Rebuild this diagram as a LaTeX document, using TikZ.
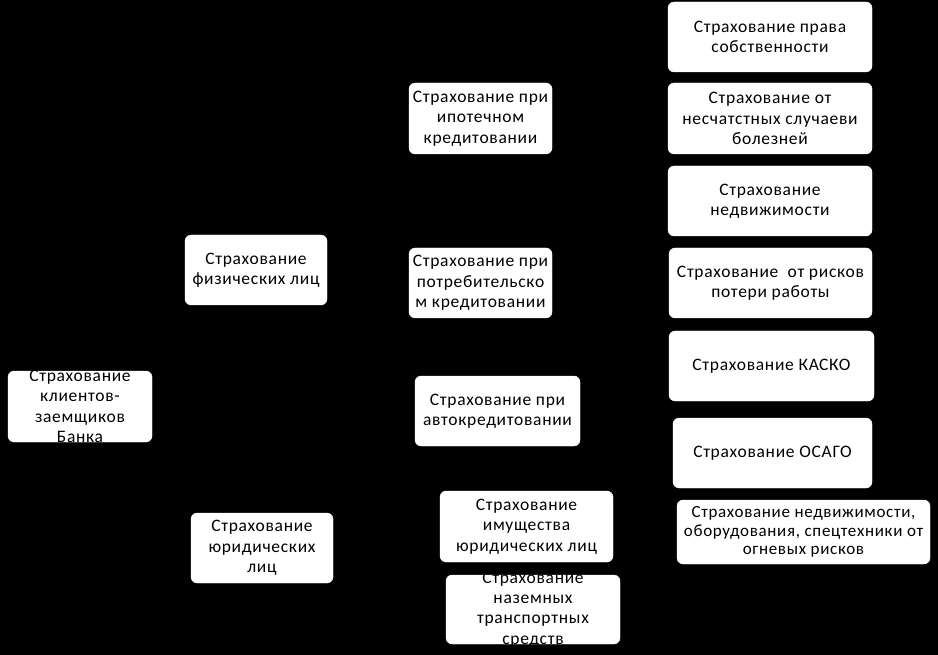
\documentclass[tikz,border=0pt]{standalone}
\usepackage{fontspec}
\setmainfont{Carlito}
\newfontfamily\boxfont[LetterSpace=4]{Carlito}
\usetikzlibrary{positioning}
\usetikzlibrary{backgrounds}

\tikzset{
  box/.style={draw=white, fill=white, rounded corners=6pt, inner sep=0pt},
  boxtext/.style={align=center, text=black, inner sep=0pt,
    font=\boxfont\fontsize{17.5}{20.3}\selectfont},
  link/.style={draw=black, line width=0.8pt}
}

% box: name, centre x, centre y, width, height, text
\newcommand{\bx}[6]{%
  \node[box, minimum width=#4, minimum height=#5,
    label={[boxtext]center:{#6}}] (#1) at (#2,#3) {};}

\begin{document}
\begin{tikzpicture}[x=1pt, y=-1pt]
  \useasboundingbox (0,0) rectangle (938,655);

  \bx{root}{80}{406.5}{144}{71}{Страхование\\клиентов-\\заемщиков\\Банка}
  \bx{fiz}{256}{270}{142}{70}{Страхование\\физических лиц}
  \bx{yur}{262}{548}{142}{70}{Страхование\\юридических\\лиц}

  \bx{ipot}{480.5}{118.5}{143}{71}{Страхование при\\ипотечном\\кредитовании}
  \bx{potr}{480.5}{283}{143}{70}{Страхование при\\потребительско\\м кредитовании}
  \bx{avto}{497.5}{411}{165}{70}{Страхование при\\автокредитовании}
  \bx{imush}{526.5}{526.5}{173}{71}{Страхование\\имущества\\юридических лиц}
  \bx{nazem}{533}{609.5}{174}{69}{Страхование\\наземных\\транспортных\\средств}

  \bx{prava}{770}{37}{204}{70}{Страхование права\\собственности}
  \bx{neschast}{770}{118.5}{204}{71}{Страхование от\\несчатстных случаеви\\болезней}
  \bx{nedv}{770}{201}{204}{70}{Страхование\\недвижимости}
  \bx{rabota}{770.5}{283}{203}{70}{Страхование \ от рисков\\потери работы}
  \bx{kasko}{771.5}{366}{205}{70}{Страхование КАСКО}
  \bx{osago}{772.5}{453}{199}{70}{Страхование ОСАГО}
  \node[box, minimum width=253, minimum height=64,
    label={[boxtext, font=\boxfont\fontsize{17}{18.5}\selectfont]center:{Страхование недвижимости,\\оборудования, спецтехники от\\огневых рисков}}]
    (ogon) at (803.5,532) {};

  % connectors, black on black as in the source
  \begin{scope}[on background layer]
    \fill[black] (0,0) rectangle (938,655);
    \foreach \a/\b in {root/fiz, root/yur, fiz/ipot, fiz/potr, fiz/avto,
        yur/imush, yur/nazem, ipot/prava, ipot/neschast, ipot/nedv,
        potr/rabota, avto/kasko, avto/osago, imush/ogon}
      \draw[link] (\a.east) -- ++(14,0) |- (\b.west);
  \end{scope}
\end{tikzpicture}
\end{document}
